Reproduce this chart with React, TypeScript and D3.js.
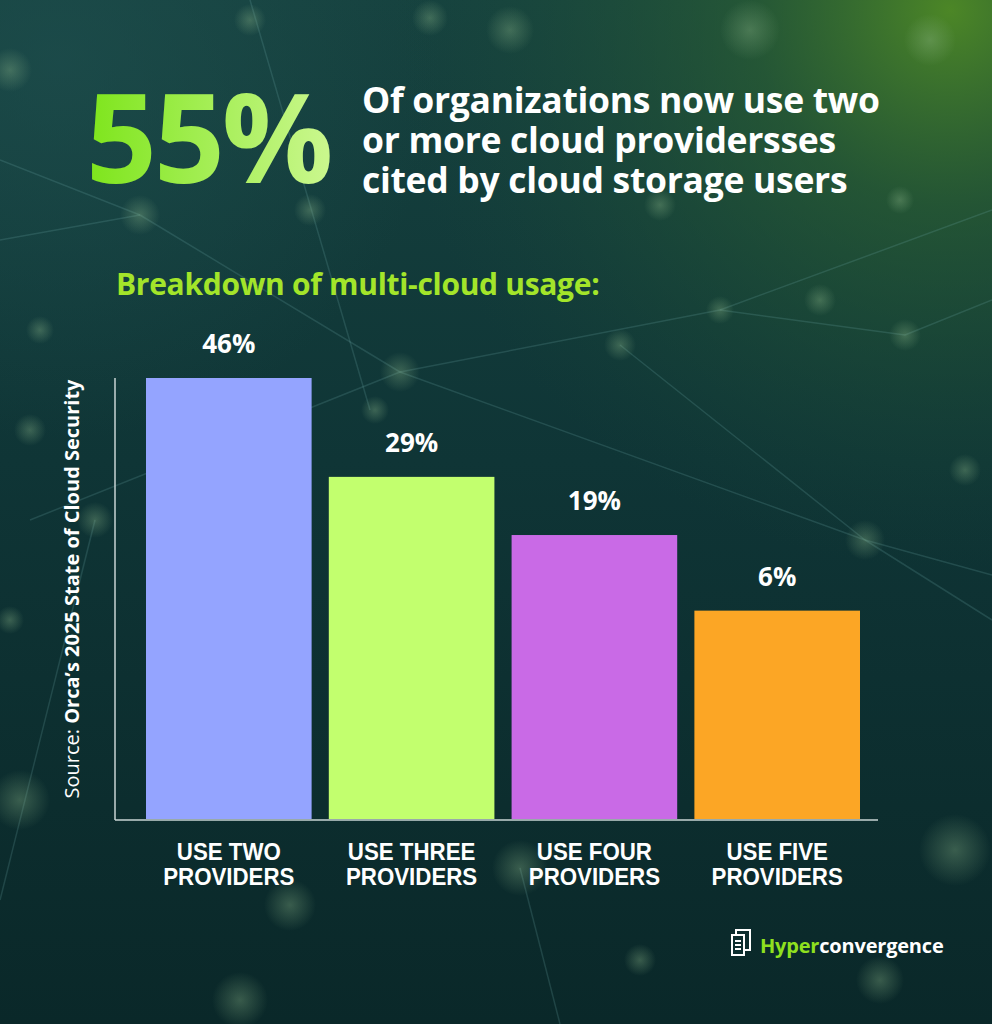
import React from "react";
import * as d3 from "d3";

const categories = ["USE TWO|PROVIDERS", "USE THREE|PROVIDERS", "USE FOUR|PROVIDERS", "USE FIVE|PROVIDERS"];
const values = [46, 29, 19, 6];
const barColors = ["#94a4ff", "#c2ff6e", "#c96ae6", "#fca625"];
const headlineLines = ["Of organizations now use two", "or more cloud providersses", "cited by cloud storage users"];
const bigStat = "55%";
const subtitle = "Breakdown of multi-cloud usage:";
const sourceRegular = "Source: ";
const sourceBold = "Orca\u2019s 2025 State of Cloud Security";

const W = 992;
const H = 1024;

const bokeh = [
  [10, 70, 22], [250, 20, 16], [430, 18, 18], [510, 30, 24], [750, 30, 30], [930, 40, 26],
  [140, 215, 20], [310, 210, 16], [660, 205, 16], [900, 200, 14], [40, 330, 14], [820, 300, 16],
  [720, 310, 14], [905, 335, 16], [620, 345, 16], [400, 372, 20], [375, 410, 14], [30, 430, 16],
  [95, 520, 18], [965, 470, 16], [865, 540, 20], [20, 800, 30], [955, 850, 36], [520, 868, 28],
  [290, 905, 26], [880, 980, 24], [240, 1000, 28], [640, 960, 16], [10, 620, 14],
];

const netLines: [number, number, number, number][] = [
  [0, 240, 140, 215], [140, 215, 400, 372], [400, 372, 865, 540], [865, 540, 992, 575],
  [400, 372, 720, 310], [720, 310, 992, 210], [140, 215, 0, 160], [400, 372, 30, 520],
  [620, 345, 865, 540], [865, 540, 992, 620], [720, 310, 905, 335], [905, 335, 992, 300],
  [250, 0, 370, 410], [0, 900, 95, 520], [520, 868, 560, 1024],
];

export default function App() {
  const margin = { left: 115, right: 878, top: 378, bottom: 820 };
  const x = d3
    .scaleBand<string>()
    .domain(categories)
    .range([146, 860])
    .paddingInner(0.094)
    .paddingOuter(0);
  const y = d3.scaleLinear().domain([-30, 46]).range([margin.bottom, margin.top]);

  return (
    <svg
      width={W}
      height={H}
      viewBox={`0 0 ${W} ${H}`}
      style={{ position: "absolute", left: 0, top: 0, display: "block" }}
    >
      <defs>
        <linearGradient id="bg" x1="0" y1="0" x2="0" y2="1">
          <stop offset="0%" stopColor="#16423f" />
          <stop offset="45%" stopColor="#0f3536" />
          <stop offset="100%" stopColor="#0a2829" />
        </linearGradient>
        <radialGradient id="glow" cx="950" cy="10" r="560" gradientUnits="userSpaceOnUse">
          <stop offset="0%" stopColor="#4f8a25" stopOpacity="0.95" />
          <stop offset="35%" stopColor="#2f6530" stopOpacity="0.6" />
          <stop offset="100%" stopColor="#1a4a3a" stopOpacity="0" />
        </radialGradient>
        <radialGradient id="glow2" cx="60" cy="60" r="380" gradientUnits="userSpaceOnUse">
          <stop offset="0%" stopColor="#1f5050" stopOpacity="0.6" />
          <stop offset="100%" stopColor="#1f5050" stopOpacity="0" />
        </radialGradient>
        <radialGradient id="bokehG">
          <stop offset="0%" stopColor="#8fb98a" stopOpacity="0.35" />
          <stop offset="100%" stopColor="#8fb98a" stopOpacity="0" />
        </radialGradient>
        <linearGradient id="statG" x1="88" y1="0" x2="325" y2="0" gradientUnits="userSpaceOnUse">
          <stop offset="0%" stopColor="#7ee51c" />
          <stop offset="100%" stopColor="#c9f78c" />
        </linearGradient>
      </defs>

      <rect width={W} height={H} fill="url(#bg)" />
      <rect width={W} height={H} fill="url(#glow2)" />
      <rect width={W} height={H} fill="url(#glow)" />

      <g stroke="#6fa9a8" strokeOpacity={0.22} strokeWidth={1.5}>
        {netLines.map((l, i) => (
          <line key={i} x1={l[0]} y1={l[1]} x2={l[2]} y2={l[3]} />
        ))}
      </g>
      <g>
        {bokeh.map((b, i) => (
          <circle key={i} cx={b[0]} cy={b[1]} r={b[2]} fill="url(#bokehG)" />
        ))}
      </g>

      <text
        x={86}
        y={183}
        fontFamily="'Open Sans', 'Noto Sans', sans-serif"
        fontWeight={700}
        fontSize={124}
        letterSpacing={-3}
        fill="url(#statG)"
      >
        {bigStat}
      </text>

      {headlineLines.map((t, i) => (
        <text
          key={i}
          x={362}
          y={113 + i * 40}
          fontFamily="'Open Sans', 'Noto Sans', sans-serif"
          fontWeight={700}
          fontSize={35.5}
          letterSpacing={-0.3}
          fill="#ffffff"
        >
          {t}
        </text>
      ))}

      <text
        x={116}
        y={295}
        fontFamily="'Open Sans', 'Noto Sans', sans-serif"
        fontWeight={700}
        fontSize={30}
        letterSpacing={-0.3}
        fill="#a3e52a"
      >
        {subtitle}
      </text>

      <text
        transform={`translate(79, 589) rotate(-90)`}
        textAnchor="middle"
        fontFamily="'Open Sans', 'Noto Sans', sans-serif"
        fontSize={20}
        fill="#ffffff"
      >
        <tspan fontWeight={400}>{sourceRegular}</tspan>
        <tspan fontWeight={700}>{sourceBold}</tspan>
      </text>

      <g stroke="#c8d4d4" strokeWidth={1.5}>
        <line x1={margin.left} y1={margin.top} x2={margin.left} y2={margin.bottom} />
        <line x1={margin.left} y1={margin.bottom} x2={margin.right} y2={margin.bottom} />
      </g>

      {categories.map((c, i) => {
        const bx = x(c)!;
        const bw = x.bandwidth();
        const top = y(values[i]);
        const cx = bx + bw / 2;
        const lines = c.split("|");
        return (
          <g key={c}>
            <rect x={bx} y={top} width={bw} height={margin.bottom - 1 - top} fill={barColors[i]} />
            <text
              x={cx}
              y={top - 25}
              textAnchor="middle"
              fontFamily="'Open Sans', 'Noto Sans', sans-serif"
              fontWeight={700}
              fontSize={26}
              fill="#ffffff"
            >
              {values[i]}%
            </text>
            {lines.map((ln, j) => (
              <text
                key={j}
                transform={`translate(${cx}, ${860 + j * 25}) scale(0.91, 1)`}
                textAnchor="middle"
                fontFamily="'Liberation Sans', Arial, sans-serif"
                fontWeight={700}
                fontSize={24.5}
                fill="#ffffff"
              >
                {ln}
              </text>
            ))}
          </g>
        );
      })}

      <g transform="translate(730, 930)" fill="none" stroke="#ffffff" strokeWidth={2}>
        <rect x={6} y={0} width={14} height={20} fill="#0d2e2f" />
        <rect x={2} y={5} width={12} height={20} fill="#0d2e2f" />
        <line x1={5} y1={11} x2={11} y2={11} />
        <line x1={5} y1={15} x2={11} y2={15} />
        <line x1={5} y1={19} x2={11} y2={19} />
      </g>
      <text
        x={760}
        y={953}
        fontFamily="'Open Sans', 'Noto Sans', sans-serif"
        fontWeight={700}
        fontSize={20}
        letterSpacing={-0.2}
      >
        <tspan fill="#8fe01f">Hyper</tspan>
        <tspan fill="#ffffff">convergence</tspan>
      </text>
    </svg>
  );
}
